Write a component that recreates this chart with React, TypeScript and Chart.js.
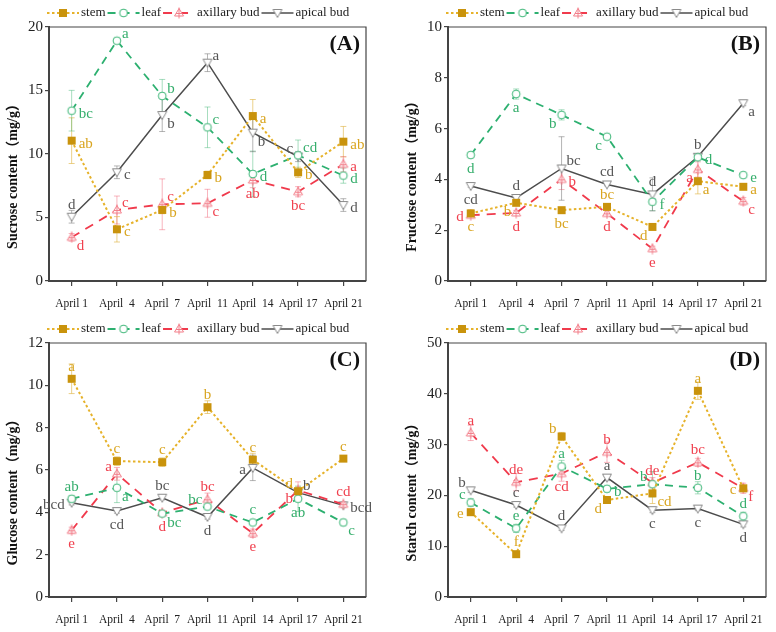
import React, { useEffect, useRef } from "react";
import { Chart, registerables } from "chart.js";

Chart.register(...registerables);

const SERIF = "'Liberation Serif', 'Times New Roman', serif";
const SERIF_CJK = "'Liberation Serif', 'Noto Sans CJK SC', serif";

const categories = ["April 1", "April  4", "April  7", "April  11", "April  14", "April 17", "April 21"];
const seriesNames = ["stem", "leaf", "axillary bud", "apical bud"];

// (A) Sucrose
const sucroseStem = [11.05, 4.07, 5.6, 8.35, 12.99, 8.56, 10.97];
const sucroseStemErr = [1.8, 1.0, 0.3, 0.3, 1.3, 0.4, 1.2];
const sucroseStemSig = ["ab", "c", "b", "b", "a", "b", "ab"];
const sucroseStemPos = ["r", "r", "r", "r", "r", "r", "r"];
const sucroseLeaf = [13.41, 18.92, 14.57, 12.1, 8.43, 9.9, 8.3];
const sucroseLeafErr = [1.6, 0.2, 1.3, 1.6, 1.8, 1.2, 0.6];
const sucroseLeafSig = ["bc", "a", "b", "c", "d", "cd", "d"];
const sucroseLeafPos = ["r", "tr", "tr", "tr", "r", "tr", "r"];
const sucroseAxil = [3.44, 5.59, 6.04, 6.12, 7.95, 7.03, 9.19];
const sucroseAxilErr = [0.3, 1.1, 2.0, 1.1, 0.6, 0.4, 0.6];
const sucroseAxilSig = ["d", "c", "c", "c", "ab", "bc", "a"];
const sucroseAxilPos = ["br", "tr", "tr", "br", "b", "b", "r"];
const sucroseApical = [5.06, 8.56, 13.07, 17.19, 11.68, 9.8, 5.98];
const sucroseApicalErr = [0.5, 0.5, 1.3, 0.7, 1.5, 0.4, 0.5];
const sucroseApicalSig = ["d", "c", "b", "a", "b", "c", "d"];
const sucroseApicalPos = ["t", "r", "br", "tr", "br", "tl", "r"];

// (B) Fructose
const fructoseStem = [2.66, 3.08, 2.79, 2.92, 2.13, 3.93, 3.71];
const fructoseStemErr = [0.15, 0.1, 0.05, 0.05, 0.05, 0.5, 0.05];
const fructoseStemSig = ["c", "b", "bc", "bc", "d", "a", "a"];
const fructoseStemPos = ["b", "bl", "b", "t", "bl", "br", "r"];
const fructoseLeaf = [4.96, 7.36, 6.54, 5.68, 3.12, 4.87, 4.17];
const fructoseLeafErr = [0.1, 0.2, 0.2, 0.05, 0.35, 0.1, 0.05];
const fructoseLeafSig = ["d", "a", "b", "c", "f", "d", "e"];
const fructoseLeafPos = ["b", "b", "bl", "bl", "r", "r", "r"];
const fructoseAxil = [2.59, 2.68, 4.0, 2.66, 1.27, 4.39, 3.14];
const fructoseAxilErr = [0.1, 0.1, 0.4, 0.1, 0.1, 0.3, 0.15];
const fructoseAxilSig = ["d", "d", "b", "d", "e", "a", "c"];
const fructoseAxilPos = ["l", "b", "r", "b", "b", "bl", "br"];
const fructoseApical = [3.74, 3.27, 4.43, 3.8, 3.41, 4.89, 7.0];
const fructoseApicalErr = [0.05, 0.05, 1.25, 0.05, 0.65, 0.1, 0.1];
const fructoseApicalSig = ["cd", "d", "bc", "cd", "d", "b", "a"];
const fructoseApicalPos = ["b", "t", "tr", "t", "t", "t", "br"];

// (C) Glucose
const glucoseStem = [10.31, 6.42, 6.37, 8.97, 6.49, 5.0, 6.54];
const glucoseStemErr = [0.7, 0.2, 0.2, 0.3, 0.3, 0.2, 0.1];
const glucoseStemSig = ["a", "c", "c", "b", "c", "d", "c"];
const glucoseStemPos = ["t", "t", "t", "t", "t", "tl", "t"];
const glucoseLeaf = [4.64, 5.16, 3.94, 4.27, 3.52, 4.64, 3.52];
const glucoseLeafErr = [0.15, 0.7, 0.1, 0.1, 0.1, 0.6, 0.15];
const glucoseLeafSig = ["ab", "a", "bc", "bc", "c", "ab", "c"];
const glucoseLeafPos = ["t", "br", "br", "tl", "t", "b", "br"];
const glucoseAxil = [3.15, 5.82, 3.98, 4.61, 3.01, 5.04, 4.38];
const glucoseAxilErr = [0.15, 0.3, 0.1, 0.3, 0.2, 0.4, 0.1];
const glucoseAxilSig = ["e", "a", "d", "bc", "e", "b", "cd"];
const glucoseAxilPos = ["b", "tl", "b", "t", "b", "bl", "t"];
const glucoseApical = [4.45, 4.06, 4.69, 3.78, 6.1, 4.93, 4.33];
const glucoseApicalErr = [0.1, 0.1, 0.1, 0.1, 0.6, 0.1, 0.1];
const glucoseApicalSig = ["bcd", "cd", "bc", "d", "a", "b", "bcd"];
const glucoseApicalPos = ["l", "b", "t", "b", "l", "tr", "r"];

// (D) Starch
const starchStem = [16.7, 8.43, 31.6, 19.1, 20.4, 40.6, 21.4];
const starchStemErr = [0.5, 0.4, 0.8, 0.5, 2.0, 1.7, 0.5];
const starchStemSig = ["e", "f", "b", "d", "cd", "a", "c"];
const starchStemPos = ["l", "t", "tl", "bl", "br", "t", "l"];
const starchLeaf = [18.6, 13.5, 25.7, 21.3, 22.2, 21.5, 15.9];
const starchLeafErr = [0.8, 0.8, 1.2, 0.6, 2.5, 1.2, 0.8];
const starchLeafSig = ["c", "e", "a", "b", "b", "b", "d"];
const starchLeafPos = ["tl", "t", "t", "r", "tl", "t", "t"];
const starchAxil = [32.3, 22.6, 24.3, 28.5, 22.5, 26.5, 21.4];
const starchAxilErr = [1.5, 1.7, 1.5, 2.0, 1.0, 0.8, 1.0];
const starchAxilSig = ["a", "de", "cd", "b", "de", "bc", "f"];
const starchAxilPos = ["t", "t", "b", "t", "t", "t", "br"];
const starchApical = [21.0, 18.1, 13.5, 23.5, 17.1, 17.4, 14.3];
const starchApicalErr = [0.4, 0.4, 0.4, 0.6, 0.5, 0.4, 0.5];
const starchApicalSig = ["b", "c", "d", "a", "c", "c", "d"];
const starchApicalPos = ["tl", "t", "t", "t", "b", "b", "b"];

type Series = { values: number[]; errs: number[]; sig: string[]; pos: string[] };
type Panel = { tag: string; yTitle: string; max: number; step: number; yWidth: number; padRight: number; series: Series[] };

const panels: Panel[] = [
  {
    tag: "(A)", yTitle: "Sucrose content（mg/g）", max: 20, step: 5, yWidth: 49, padRight: 22,
    series: [
      { values: sucroseStem, errs: sucroseStemErr, sig: sucroseStemSig, pos: sucroseStemPos },
      { values: sucroseLeaf, errs: sucroseLeafErr, sig: sucroseLeafSig, pos: sucroseLeafPos },
      { values: sucroseAxil, errs: sucroseAxilErr, sig: sucroseAxilSig, pos: sucroseAxilPos },
      { values: sucroseApical, errs: sucroseApicalErr, sig: sucroseApicalSig, pos: sucroseApicalPos },
    ],
  },
  {
    tag: "(B)", yTitle: "Fructose content（mg/g）", max: 10, step: 2, yWidth: 60, padRight: 10,
    series: [
      { values: fructoseStem, errs: fructoseStemErr, sig: fructoseStemSig, pos: fructoseStemPos },
      { values: fructoseLeaf, errs: fructoseLeafErr, sig: fructoseLeafSig, pos: fructoseLeafPos },
      { values: fructoseAxil, errs: fructoseAxilErr, sig: fructoseAxilSig, pos: fructoseAxilPos },
      { values: fructoseApical, errs: fructoseApicalErr, sig: fructoseApicalSig, pos: fructoseApicalPos },
    ],
  },
  {
    tag: "(C)", yTitle: "Glucose content（mg/g）", max: 12, step: 2, yWidth: 49, padRight: 22,
    series: [
      { values: glucoseStem, errs: glucoseStemErr, sig: glucoseStemSig, pos: glucoseStemPos },
      { values: glucoseLeaf, errs: glucoseLeafErr, sig: glucoseLeafSig, pos: glucoseLeafPos },
      { values: glucoseAxil, errs: glucoseAxilErr, sig: glucoseAxilSig, pos: glucoseAxilPos },
      { values: glucoseApical, errs: glucoseApicalErr, sig: glucoseApicalSig, pos: glucoseApicalPos },
    ],
  },
  {
    tag: "(D)", yTitle: "Starch content（mg/g）", max: 50, step: 10, yWidth: 60, padRight: 10,
    series: [
      { values: starchStem, errs: starchStemErr, sig: starchStemSig, pos: starchStemPos },
      { values: starchLeaf, errs: starchLeafErr, sig: starchLeafSig, pos: starchLeafPos },
      { values: starchAxil, errs: starchAxilErr, sig: starchAxilSig, pos: starchAxilPos },
      { values: starchApical, errs: starchApicalErr, sig: starchApicalSig, pos: starchApicalPos },
    ],
  },
];

const seriesStyles = [
  { kind: "stem", line: "#E6B22A", dash: [2.5, 2.5], width: 2, err: "rgba(222,176,60,0.6)", text: "#D9A520" },
  { kind: "leaf", line: "#2DB070", dash: [8, 6], width: 1.8, err: "rgba(60,180,113,0.45)", text: "#35AE6C" },
  { kind: "axil", line: "#F03A4C", dash: [9, 7], width: 1.8, err: "rgba(240,90,110,0.45)", text: "#F0404E" },
  { kind: "apical", line: "#4D4D4D", dash: [], width: 1.5, err: "rgba(120,120,120,0.55)", text: "#555555" },
];

function makeMarker(kind: string): HTMLCanvasElement {
  const c = document.createElement("canvas");
  c.width = 12;
  c.height = 12;
  const ctx = c.getContext("2d")!;
  ctx.lineWidth = 1;
  if (kind === "stem") {
    ctx.fillStyle = "#C9930C";
    ctx.fillRect(2, 2, 8, 8);
  } else if (kind === "leaf") {
    ctx.beginPath();
    ctx.arc(6, 6, 3.9, 0, Math.PI * 2);
    ctx.fillStyle = "#fff";
    ctx.fill();
    ctx.strokeStyle = "#3DB677";
    ctx.stroke();
  } else if (kind === "axil") {
    ctx.beginPath();
    ctx.moveTo(6, 1.5);
    ctx.lineTo(10.5, 9);
    ctx.lineTo(1.5, 9);
    ctx.closePath();
    ctx.fillStyle = "#fff";
    ctx.fill();
    ctx.strokeStyle = "#F27C88";
    ctx.stroke();
    ctx.beginPath();
    ctx.moveTo(6, 0.5);
    ctx.lineTo(6, 11.5);
    ctx.moveTo(3, 6.5);
    ctx.lineTo(9, 6.5);
    ctx.stroke();
  } else {
    ctx.beginPath();
    ctx.moveTo(1.5, 2.5);
    ctx.lineTo(10.5, 2.5);
    ctx.lineTo(6, 10.5);
    ctx.closePath();
    ctx.fillStyle = "#fff";
    ctx.fill();
    ctx.strokeStyle = "#8A8A8A";
    ctx.stroke();
  }
  return c;
}

const LABEL_OFFSETS: Record<string, [number, number, CanvasTextAlign]> = {
  r: [7, 3, "left"],
  l: [-7, 2, "right"],
  t: [0, -12, "center"],
  b: [0, 14, "center"],
  tr: [5, -7, "left"],
  br: [5, 9, "left"],
  tl: [-5, -7, "right"],
  bl: [-5, 9, "right"],
};

function PanelChart({ panel, left, top }: { panel: Panel; left: number; top: number }) {
  const ref = useRef<HTMLCanvasElement>(null);
  useEffect(() => {
    const markers = seriesStyles.map((s) => makeMarker(s.kind));
    const overlay = {
      id: "overlay",
      beforeDatasetsDraw(chart: any) {
        const ctx = chart.ctx;
        const y = chart.scales.y;
        ctx.save();
        panel.series.forEach((s, i) => {
          const meta = chart.getDatasetMeta(i);
          ctx.strokeStyle = seriesStyles[i].err;
          ctx.lineWidth = 1;
          s.values.forEach((v, j) => {
            const e = s.errs[j];
            if (!e) return;
            const px = meta.data[j].x;
            const y1 = y.getPixelForValue(v + e);
            const y2 = y.getPixelForValue(v - e);
            ctx.beginPath();
            ctx.moveTo(px, y1);
            ctx.lineTo(px, y2);
            ctx.moveTo(px - 3, y1);
            ctx.lineTo(px + 3, y1);
            ctx.moveTo(px - 3, y2);
            ctx.lineTo(px + 3, y2);
            ctx.stroke();
          });
        });
        ctx.restore();
      },
      afterDatasetsDraw(chart: any) {
        const ctx = chart.ctx;
        ctx.save();
        ctx.font = `15px ${SERIF}`;
        ctx.textBaseline = "middle";
        panel.series.forEach((s, i) => {
          const meta = chart.getDatasetMeta(i);
          ctx.fillStyle = seriesStyles[i].text;
          s.sig.forEach((t, j) => {
            const p = meta.data[j];
            const [dx, dy, al] = LABEL_OFFSETS[s.pos[j]] || LABEL_OFFSETS.r;
            ctx.textAlign = al;
            ctx.fillText(t, p.x + dx, p.y + dy);
          });
        });
        ctx.restore();
      },
      afterDraw(chart: any) {
        const ctx = chart.ctx;
        const a = chart.chartArea;
        ctx.save();
        ctx.strokeStyle = "#444";
        ctx.lineWidth = 1.2;
        ctx.beginPath();
        ctx.moveTo(a.left, a.top);
        ctx.lineTo(a.right, a.top);
        ctx.lineTo(a.right, a.bottom);
        ctx.stroke();
        ctx.fillStyle = "#111";
        ctx.font = `bold 22px ${SERIF}`;
        ctx.textAlign = "right";
        ctx.textBaseline = "middle";
        ctx.fillText(panel.tag, a.right - 6, a.top + 17);
        ctx.save();
        ctx.translate(a.left - 36, (a.top + a.bottom) / 2 + 19);
        ctx.rotate(-Math.PI / 2);
        ctx.font = `bold 14px ${SERIF_CJK}`;
        ctx.textAlign = "center";
        ctx.fillStyle = "#111";
        ctx.fillText(panel.yTitle, 0, 0);
        ctx.restore();
        let x = a.left - 2;
        const ly = a.top - 14;
        ctx.font = `13px ${SERIF}`;
        ctx.textAlign = "left";
        ctx.textBaseline = "middle";
        seriesStyles.forEach((st, i) => {
          ctx.strokeStyle = st.line;
          ctx.lineWidth = st.width;
          ctx.setLineDash(st.dash);
          ctx.beginPath();
          ctx.moveTo(x, ly);
          ctx.lineTo(x + 32, ly);
          ctx.stroke();
          ctx.setLineDash([]);
          ctx.drawImage(markers[i], x + 16 - 6, ly - 6);
          ctx.fillStyle = "#222";
          ctx.fillText(seriesNames[i], x + 34, ly);
          x += 34 + ctx.measureText(seriesNames[i]).width + 2;
        });
        ctx.restore();
      },
    };

    const chart = new Chart(ref.current!, {
      type: "line",
      data: {
        labels: categories,
        datasets: panel.series.map((s, i) => ({
          label: seriesNames[i],
          data: s.values,
          borderColor: seriesStyles[i].line,
          borderDash: seriesStyles[i].dash,
          borderWidth: seriesStyles[i].width,
          pointStyle: markers[i] as any,
          pointRadius: 5,
          pointHoverRadius: 5,
          fill: false,
          tension: 0,
        })),
      },
      options: {
        responsive: false,
        animation: false,
        events: [],
        layout: { padding: { top: 27, right: panel.padRight, left: 0, bottom: 0 } },
        plugins: { legend: { display: false }, tooltip: { enabled: false } },
        scales: {
          x: {
            type: "category",
            offset: true,
            grid: { display: true, drawOnChartArea: false, drawTicks: true, tickLength: 5, color: "#444", lineWidth: 1.2 },
            border: { display: true, color: "#444", width: 2 },
            ticks: { font: { family: SERIF, size: 11.5 }, color: "#222", padding: 11, maxRotation: 0, autoSkip: false },
            afterFit: (s: any) => {
              s.height = 35;
            },
          },
          y: {
            min: 0,
            max: panel.max,
            ticks: { stepSize: panel.step, font: { family: SERIF, size: 15 }, color: "#222", padding: 2 },
            grid: { display: true, drawOnChartArea: false, drawTicks: true, tickLength: 4, color: "#444", lineWidth: 1.2 },
            border: { display: true, color: "#444", width: 2 },
            afterFit: (s: any) => {
              s.width = panel.yWidth;
            },
          },
        },
      },
      plugins: [overlay],
    });
    return () => chart.destroy();
  }, [panel]);
  return (
    <canvas
      ref={ref}
      width={388}
      height={316}
      style={{ position: "absolute", left, top, width: 388, height: 316 }}
    />
  );
}

export default function App() {
  const boxes = [
    [0, 0],
    [388, 0],
    [0, 316],
    [388, 316],
  ];
  return (
    <div style={{ position: "fixed", left: 0, top: 0, width: 776, height: 632, background: "#fff" }}>
      {panels.map((p, i) => (
        <PanelChart key={p.tag} panel={p} left={boxes[i][0]} top={boxes[i][1]} />
      ))}
    </div>
  );
}
